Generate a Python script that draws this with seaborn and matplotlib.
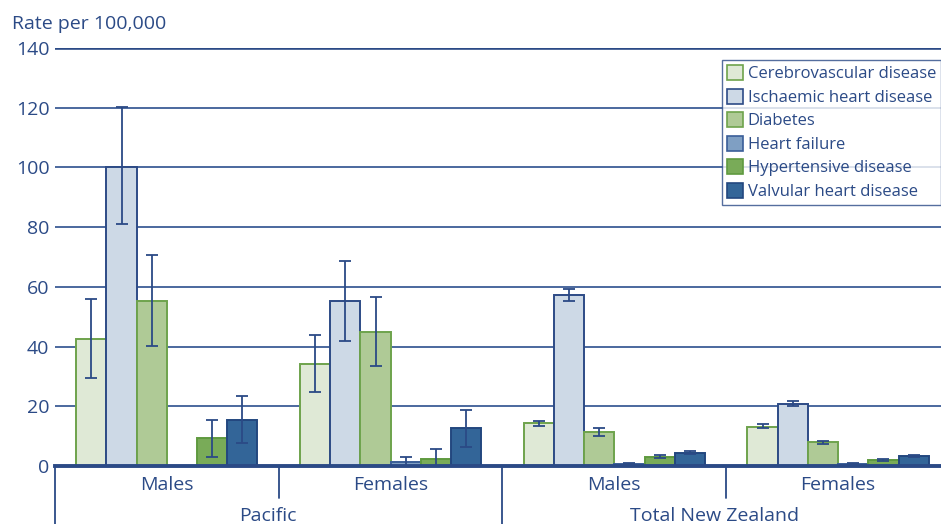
import matplotlib
matplotlib.use("Agg")
import matplotlib.pyplot as plt
import seaborn as sns
import pandas as pd
import numpy as np

# ---- data -------------------------------------------------------------
causes = ["Cerebrovascular disease", "Ischaemic heart disease", "Diabetes",
          "Heart failure", "Hypertensive disease", "Valvular heart disease"]
groups = ["Pacific Males", "Pacific Females", "Total NZ Males", "Total NZ Females"]
sex_labels = ["Males", "Females", "Males", "Females"]
region_labels = ["Pacific", "Total New Zealand"]

cerebrovascular = [42.5, 34.2, 14.4, 13.2]
ischaemic = [100.2, 55.3, 57.2, 20.9]
diabetes = [55.3, 44.9, 11.3, 7.9]
heart_failure = [0.0, 1.3, 0.7, 0.7]
hypertensive = [9.3, 2.2, 3.1, 2.1]
valvular = [15.3, 12.6, 4.5, 3.3]

cerebrovascular_lo = [29.5, 24.8, 13.4, 12.6]
cerebrovascular_hi = [56.0, 43.8, 15.2, 13.9]
ischaemic_lo = [81.0, 41.9, 55.2, 20.0]
ischaemic_hi = [120.2, 68.5, 59.2, 21.8]
diabetes_lo = [40.2, 33.6, 10.1, 7.3]
diabetes_hi = [70.8, 56.6, 12.6, 8.5]
heart_failure_lo = [np.nan, 0.1, 0.5, 0.5]
heart_failure_hi = [np.nan, 3.0, 0.9, 1.0]
hypertensive_lo = [2.9, 0.1, 2.6, 1.8]
hypertensive_hi = [15.5, 5.6, 3.6, 2.5]
valvular_lo = [7.6, 6.3, 4.1, 3.0]
valvular_hi = [23.4, 18.9, 4.9, 3.7]

values = [cerebrovascular, ischaemic, diabetes, heart_failure, hypertensive, valvular]
lows = [cerebrovascular_lo, ischaemic_lo, diabetes_lo, heart_failure_lo, hypertensive_lo, valvular_lo]
highs = [cerebrovascular_hi, ischaemic_hi, diabetes_hi, heart_failure_hi, hypertensive_hi, valvular_hi]

fills = ["#dfe9d6", "#cdd9e6", "#afca96", "#7f9fc3", "#79ab58", "#336598"]
edges = ["#6ea34c", "#2d4b86", "#6ea34c", "#3a5e98", "#5f9a3f", "#23477f"]
navy = "#2b4a86"

df = pd.DataFrame([
    {"group": g, "cause": c, "rate": values[i][j]}
    for i, c in enumerate(causes) for j, g in enumerate(groups)
])

# ---- figure -----------------------------------------------------------
sns.set_theme(style="white")
plt.rcParams["font.family"] = ["Open Sans", "DejaVu Sans"]

fig = plt.figure(figsize=(9.41, 5.24), dpi=100)
ax = fig.add_axes([55 / 941, 1 - 466 / 524, (941 - 55) / 941, 418 / 524])

sns.barplot(data=df, x="group", y="rate", hue="cause", order=groups,
            hue_order=causes, palette=fills, width=0.81, saturation=1,
            errorbar=None, ax=ax)

bar_sets = list(ax.containers)
for i, cont in enumerate(bar_sets):
    xs = []
    for p in cont.patches:
        p.set_edgecolor(edges[i])
        p.set_linewidth(1.4)
        xs.append(p.get_x() + p.get_width() / 2)
    xs = np.array(xs)
    lo = np.array(lows[i])
    hi = np.array(highs[i])
    ok = ~np.isnan(lo)
    mid = (lo + hi) / 2
    ax.errorbar(xs[ok], mid[ok], yerr=((hi - lo) / 2)[ok], fmt="none",
                ecolor=navy, elinewidth=1.3, capsize=4, capthick=1.3, zorder=5)

# axes limits and grid
ax.set_ylim(0, 140)
ax.set_xlim(-0.5, 3.5 - 9 / 224)
ax.set_yticks(np.arange(0, 141, 20))
ax.yaxis.grid(True, color="#3d5d96", linewidth=1.3)
ax.set_axisbelow(True)
for s in ["left", "right", "top"]:
    ax.spines[s].set_visible(False)
ax.spines["bottom"].set_color(navy)
ax.spines["bottom"].set_linewidth(2.8)
ax.spines["bottom"].set_zorder(6)
ax.axhline(140, color=navy, linewidth=2.6, zorder=1)

ax.tick_params(axis="y", length=0, pad=4, labelsize=14, labelcolor=navy)
ax.tick_params(axis="x", length=0, pad=7, labelsize=14, labelcolor=navy)
ax.set_xticks(range(len(groups)))
ax.set_xticklabels(sex_labels)
ax.set_xlabel("")
ax.set_ylabel("")

fig.text(12 / 941, 1 - 24 / 524, "Rate per 100,000", color=navy, fontsize=14,
         va="center", ha="left")

# category dividers below the axis
tr = ax.get_xaxis_transform()
for x in [-0.5, 1.5]:
    ax.plot([x, x], [0, -0.15], transform=tr, color=navy, linewidth=1.3, clip_on=False)
for x in [0.5, 2.5]:
    ax.plot([x, x], [0, -0.077], transform=tr, color=navy, linewidth=1.3, clip_on=False)
for k, lab in enumerate(region_labels):
    ax.text(0.45 + 2 * k, -0.12, lab, transform=tr, ha="center", va="center",
            fontsize=14, color=navy)

# legend
handles = [plt.Rectangle((0, 0), 1, 1, facecolor=fills[i], edgecolor=edges[i], linewidth=1.2)
           for i in range(len(causes))]
leg = ax.legend(handles, causes, loc="upper right", bbox_to_anchor=(1.0, 0.971),
                frameon=True, fancybox=False, fontsize=12, handlelength=0.95,
                handleheight=1.0, handletextpad=0.3, labelspacing=0.38,
                borderpad=0.3, borderaxespad=0.0)
leg.get_frame().set_edgecolor(navy)
leg.get_frame().set_linewidth(1.0)
for t in leg.get_texts():
    t.set_color(navy)

fig.savefig("out.png", dpi=100)
